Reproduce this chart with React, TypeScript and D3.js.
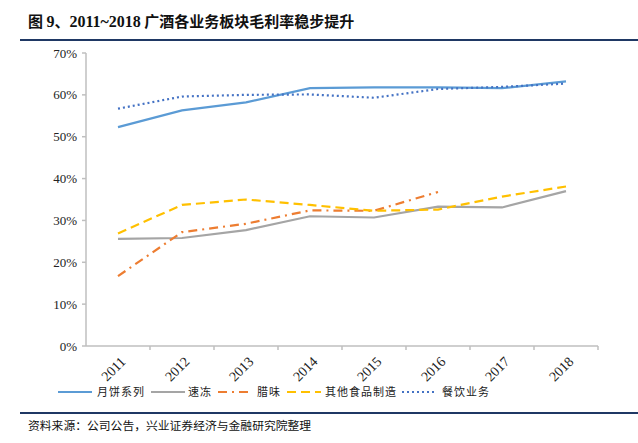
import React from 'react';
import * as d3 from 'd3';

const years = ['2011', '2012', '2013', '2014', '2015', '2016', '2017', '2018'];
const mooncake = [52.3, 56.3, 58.2, 61.6, 61.8, 61.8, 61.6, 63.2];
const frozen = [25.6, 25.8, 27.7, 31.0, 30.7, 33.3, 33.1, 37.0];
const cured = [16.7, 27.2, 29.2, 32.4, 32.3, 36.8, null, null];
const otherFood = [26.9, 33.7, 35.0, 33.7, 32.3, 32.6, 35.7, 38.1];
const catering = [56.7, 59.6, 60.0, 60.1, 59.3, 61.4, 61.9, 62.7];
const yTicks = [0, 10, 20, 30, 40, 50, 60, 70];

const series = [
  { name: '月饼系列', values: mooncake, color: '#5B9BD5', dash: '' },
  { name: '速冻', values: frozen, color: '#A5A5A5', dash: '' },
  { name: '腊味', values: cured, color: '#ED7D31', dash: '9,5,2,5' },
  { name: '其他食品制造', values: otherFood, color: '#FFC000', dash: '9,5' },
  { name: '餐饮业务', values: catering, color: '#4472C4', dash: '2,3' },
];

const serif = '"Liberation Serif", "Times New Roman", serif';
const cjk = '"Noto Sans CJK SC", sans-serif';

const App: React.FC = () => {
  const left = 86;
  const right = 598;
  const top = 53;
  const bottom = 346;

  const x = d3.scaleBand<string>().domain(years).range([left, right]);
  const y = d3.scaleLinear().domain([0, 70]).range([bottom, top]);

  const line = d3
    .line<number | null>()
    .defined((d) => d !== null)
    .x((_, i) => (x(years[i]) as number) + x.bandwidth() / 2)
    .y((d) => y(d as number));

  // legend layout
  const legend = [
    { lx: 58, tx: 97 },
    { lx: 151, tx: 188 },
    { lx: 218, tx: 257 },
    { lx: 287, tx: 325 },
    { lx: 402, tx: 442 },
  ];

  return (
    <svg width={638} height={443} style={{ position: 'absolute', left: 0, top: 0, background: '#fff' }}>
      <text x={28} y={27} fontFamily={cjk} fontWeight="bold" fontSize={15} fill="#111">
        图 <tspan fontFamily={serif} fontSize={16}>9</tspan>、<tspan fontFamily={serif} fontSize={16}>2011~2018</tspan> 广酒各业务板块毛利率稳步提升
      </text>
      <line x1={20} x2={638} y1={40} y2={40} stroke="#1F3864" strokeWidth={2} />

      {/* y axis */}
      <line x1={left} x2={left} y1={top} y2={bottom} stroke="#BFBFBF" strokeWidth={1.5} />
      {yTicks.map((t) => (
        <g key={t}>
          <line x1={left - 4} x2={left} y1={y(t)} y2={y(t)} stroke="#BFBFBF" strokeWidth={1.5} />
          <text x={left - 9} y={y(t)} dy="0.35em" textAnchor="end" fontFamily={serif} fontSize={13} fill="#222">
            {t}%
          </text>
        </g>
      ))}

      {/* x axis */}
      <line x1={left} x2={right} y1={bottom} y2={bottom} stroke="#BFBFBF" strokeWidth={1.5} />
      {years.map((yr) => (
        <line key={'t' + yr} x1={(x(yr) as number) + x.bandwidth()} x2={(x(yr) as number) + x.bandwidth()} y1={bottom} y2={bottom + 4} stroke="#BFBFBF" strokeWidth={1.5} />
      ))}
      {years.map((yr) => {
        const cx = (x(yr) as number) + x.bandwidth() / 2 + 5;
        const cy = bottom + 13;
        return (
          <text key={yr} x={cx} y={cy} transform={`rotate(-45 ${cx} ${cy})`} textAnchor="end" dy="0.35em" fontFamily={serif} fontSize={14} fill="#222">
            {yr}
          </text>
        );
      })}

      {/* lines */}
      {series.map((s) => (
        <path key={s.name} d={line(s.values) || ''} fill="none" stroke={s.color} strokeWidth={2.2} strokeDasharray={s.dash} />
      ))}

      {/* legend */}
      {series.map((s, i) => (
        <g key={'lg' + s.name}>
          <line x1={legend[i].lx} x2={legend[i].lx + 34} y1={392} y2={392} stroke={s.color} strokeWidth={2.2} strokeDasharray={s.dash} />
          <text x={legend[i].tx} y={392} dy="0.35em" fontFamily={cjk} fontSize={11} fill="#222" letterSpacing={1}>
            {s.name}
          </text>
        </g>
      ))}

      <line x1={20} x2={638} y1={413} y2={413} stroke="#1F3864" strokeWidth={2} />
      <text x={28} y={430} fontFamily={cjk} fontSize={11.8} fill="#111">
        资料来源：公司公告，兴业证券经济与金融研究院整理
      </text>
    </svg>
  );
};

export default App;
